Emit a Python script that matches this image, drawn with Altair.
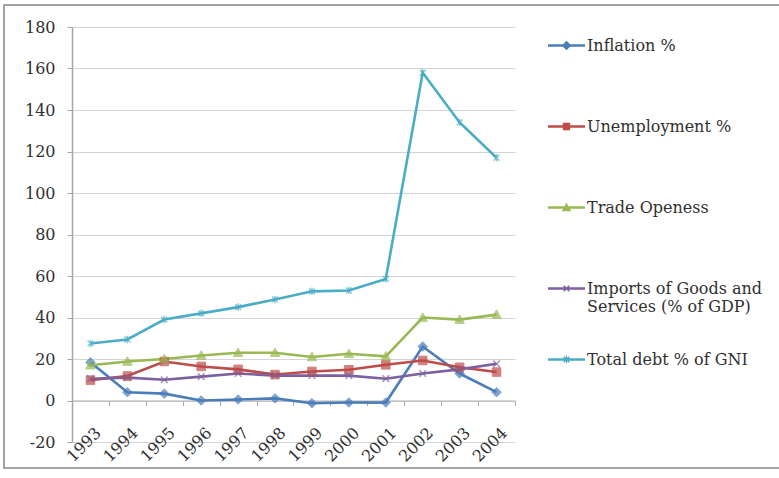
import altair as alt
import pandas as pd

years = ["1993", "1994", "1995", "1996", "1997", "1998",
         "1999", "2000", "2001", "2002", "2003", "2004"]

series_names = ["Inflation %", "Unemployment %", "Trade Openess",
                "Imports of Goods and Services (% of GDP)", "Total debt % of GNI"]

inflation = [18.4, 4.0, 3.3, 0.0, 0.5, 1.0, -1.3, -1.0, -1.0, 26.0, 13.0, 4.0]
unemployment = [9.8, 11.8, 18.8, 16.4, 15.0, 12.5, 14.0, 14.8, 17.2, 19.3, 16.0, 13.7]
trade_openness = [17.0, 18.8, 20.0, 21.7, 23.0, 23.0, 21.0, 22.5, 21.3, 40.0, 39.0, 41.4]
imports_gdp = [10.5, 11.0, 10.0, 11.5, 13.0, 12.0, 12.0, 12.0, 10.5, 13.0, 15.0, 17.7]
total_debt = [27.5, 29.4, 39.0, 42.0, 45.0, 48.7, 52.6, 53.0, 58.6, 158.0, 134.0, 117.0]

colors = ["#4A7EBB", "#BE4B48", "#98B954", "#7D60A0", "#4BACC6"]

# point markers per series: (svg path, filled)
markers = [
    ("M0,-1L1,0L0,1L-1,0Z", True),                          # diamond
    ("M-0.9,-0.9H0.9V0.9H-0.9Z", True),                     # square
    ("M0,-1L1,0.8H-1Z", True),                              # triangle
    ("M-0.8,-0.8L0.8,0.8M-0.8,0.8L0.8,-0.8", False),        # x
    ("M-0.7,-0.7L0.7,0.7M-0.7,0.7L0.7,-0.7M0,-0.9V0.9", False),  # asterisk
]

# legend keys: a short bar with the marker in the middle (filled outlines)
KEY_BAR = "M-1,-0.07H1V0.07H-1Z"
KEY_X = ("M-0.18,-0.12L-0.12,-0.18L0.18,0.12L0.12,0.18Z"
         "M-0.18,0.12L0.12,-0.18L0.18,-0.12L-0.12,0.18Z")
legend_paths = [
    KEY_BAR + "M0,-0.26L0.26,0L0,0.26L-0.26,0Z",
    KEY_BAR + "M-0.2,-0.2H0.2V0.2H-0.2Z",
    KEY_BAR + "M0,-0.26L0.26,0.2H-0.26Z",
    KEY_BAR + KEY_X,
    KEY_BAR + KEY_X + "M-0.03,-0.2H0.03V0.2H-0.03Z",
]

rows = []
for name, vals in zip(series_names, [inflation, unemployment, trade_openness,
                                     imports_gdp, total_debt]):
    for yr, v in zip(years, vals):
        rows.append({"year": yr, "series": name, "value": v})
df = pd.DataFrame(rows)

FONT = "DejaVu Serif"
TEXT = "#303030"

x_scale = alt.Scale(type="band", domain=years, paddingInner=0, paddingOuter=0)
y_scale = alt.Scale(domain=[-20, 180], nice=False)

y_axis = alt.Axis(values=list(range(-20, 181, 20)), title=None,
                  labelExpr="datum.value + ''",
                  labelFont=FONT, labelFontSize=16, labelColor=TEXT,
                  labelPadding=12, tickSize=5, tickColor="#a6a6a6",
                  domainColor="#a6a6a6", domainWidth=1.5,
                  gridColor="#d4d4d4", gridWidth=1.2)
y_enc = alt.Y("value:Q", scale=y_scale, axis=y_axis)

label_axis = alt.Axis(title=None, orient="bottom", labelAngle=-45,
                      labelAlign="right", labelBaseline="middle",
                      labelFont=FONT, labelFontSize=16, labelColor=TEXT,
                      ticks=False, domain=False, grid=False,
                      labelPadding=-12, labelOffset=8)
# category axis drawn along the zero line, ticks between categories
zero_axis = alt.Axis(title=None, orient="bottom", labels=False, grid=False,
                     ticks=True, tickBand="extent", tickSize=5,
                     tickColor="#a6a6a6", domainColor="#b0b0b0",
                     domainWidth=1.2, offset=-41.5)

base = alt.Chart(df)

line_layers = []
point_layers = []
for i, (name, col, (path, filled)) in enumerate(zip(series_names, colors, markers)):
    sub = base.transform_filter(alt.datum.series == name)
    line_layers.append(sub.mark_line(color=col, strokeWidth=2.6).encode(
        x=alt.X("year:O", scale=x_scale, axis=label_axis if i == 0 else None),
        y=y_enc,
        order=alt.Order("year:O"),
    ))
    if filled:
        pm = sub.mark_point(shape=path, filled=True, color=col, size=90,
                            stroke=col, strokeWidth=1)
    else:
        pm = sub.mark_point(shape=path, filled=False, color=col, size=70,
                            strokeWidth=1.4)
    point_layers.append(pm.encode(
        x=alt.X("year:O", scale=x_scale, axis=zero_axis if i == 0 else None),
        y=y_enc,
    ))


def legend_opts(y):
    return dict(
        title=None, orient="none", legendX=476, legendY=y, padding=0,
        direction="vertical", rowPadding=54, symbolSize=1369, symbolOpacity=1,
        symbolStrokeWidth=0, labelFont=FONT, labelFontSize=16,
        labelColor=TEXT, labelLimit=300, labelOffset=2,
        labelExpr="datum.label == 'Imports of Goods and Services (% of GDP)' ? "
                  "['Imports of Goods and', 'Services (% of GDP)'] : datum.label",
    )


# invisible layers that only carry the legend (first four keys, then the last)
legend_layers = []
for names, ypos in [(series_names[:4], 0), (series_names[4:], 314)]:
    idx = [series_names.index(n) for n in names]
    legend_layers.append(
        base.transform_filter(alt.FieldOneOfPredicate(field="series", oneOf=names))
        .mark_point(filled=True, opacity=0).encode(
            x=alt.X("year:O", scale=x_scale, axis=None),
            y=y_enc,
            color=alt.Color("series:N",
                            scale=alt.Scale(domain=names, range=[colors[j] for j in idx]),
                            legend=alt.Legend(**legend_opts(ypos))),
            shape=alt.Shape("series:N",
                            scale=alt.Scale(domain=names, range=[legend_paths[j] for j in idx]),
                            legend=alt.Legend(**legend_opts(ypos))),
        ))

# outer border around the whole graphic
frame = alt.Chart(pd.DataFrame({"k": [0]})).mark_rect(
    fill=None, stroke="#a3a3a3", strokeWidth=2).encode(
    x=alt.value(-68), x2=alt.value(712), y=alt.value(-22), y2=alt.value(441))

chart = alt.layer(frame, *line_layers, *point_layers, *legend_layers).resolve_axis(
    x="independent"
).resolve_scale(
    color="independent", shape="independent"
).properties(
    width=443, height=415,
    autosize=alt.AutoSizeParams(type="none"),
    padding={"left": 72, "top": 27, "right": 264, "bottom": 36},
    background="white",
).configure_view(stroke=None)

chart.save("out.html", embed_options={"renderer": "svg", "actions": False})
